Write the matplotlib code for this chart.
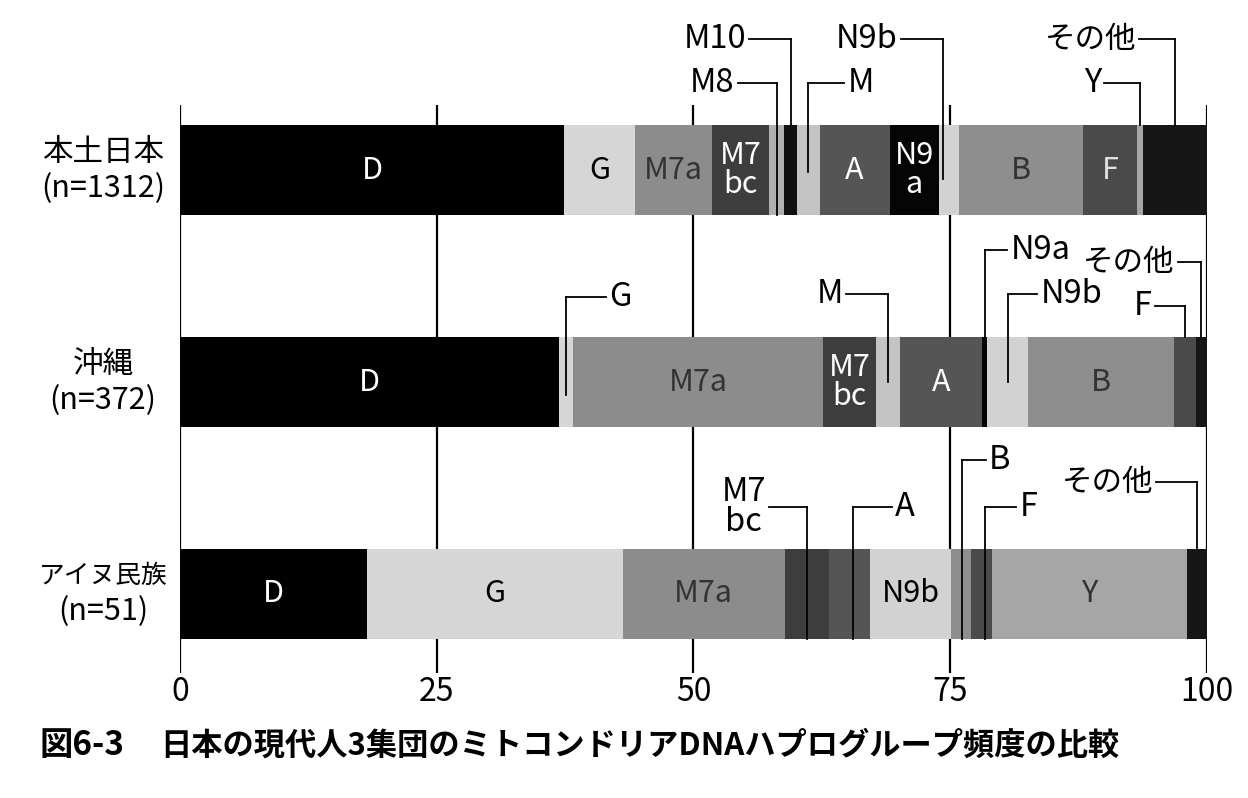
import numpy as np
import matplotlib.pyplot as plt
import matplotlib.transforms as mtransforms

plt.rcParams['font.family'] = ['Noto Sans CJK JP', 'DejaVu Sans']

# population labels (top to bottom)
groups = ['本土日本', '沖縄', 'アイヌ民族']
sizes = ['(n=1312)', '(n=372)', '(n=51)']

# haplogroup frequencies (%)
hondo_hg = ['D', 'G', 'M7a', 'M7bc', 'M8', 'M10', 'M', 'A', 'N9a', 'N9b', 'B', 'F', 'Y', 'その他']
hondo_pct = [37.4, 6.9, 7.5, 5.6, 1.4, 1.3, 2.2, 6.8, 4.8, 2.0, 12.0, 5.3, 0.6, 6.2]

okinawa_hg = ['D', 'G', 'M7a', 'M7bc', 'M', 'A', 'N9a', 'N9b', 'B', 'F', 'その他']
okinawa_pct = [36.9, 1.4, 24.3, 5.2, 2.3, 8.0, 0.5, 4.0, 14.2, 2.1, 1.1]

ainu_hg = ['D', 'G', 'M7a', 'M7bc', 'A', 'N9b', 'B', 'F', 'Y', 'その他']
ainu_pct = [18.2, 24.9, 15.8, 4.3, 4.0, 7.9, 1.9, 2.1, 19.0, 1.9]

xticks = [0, 25, 50, 75, 100]

rows = [(hondo_hg, hondo_pct), (okinawa_hg, okinawa_pct), (ainu_hg, ainu_pct)]

shade = {'D': '#000000', 'G': '#d6d6d6', 'M7a': '#8c8c8c', 'M7bc': '#3d3d3d',
         'M8': '#b0b0b0', 'M10': '#111111', 'M': '#c4c4c4', 'A': '#555555',
         'N9a': '#050505', 'N9b': '#d2d2d2', 'B': '#8e8e8e', 'F': '#4a4a4a',
         'Y': '#a6a6a6', 'その他': '#161616'}

# labels written inside the bars: haplogroup -> (text, colour)
inside = [
    {'D': ('D', 'white'), 'G': ('G', 'black'), 'M7a': ('M7a', '#333333'),
     'M7bc': ('M7\nbc', 'white'), 'A': ('A', 'white'), 'N9a': ('N9\na', 'white'),
     'B': ('B', '#333333'), 'F': ('F', '#e0e0e0')},
    {'D': ('D', 'white'), 'M7a': ('M7a', '#333333'), 'M7bc': ('M7\nbc', 'white'),
     'A': ('A', 'white'), 'B': ('B', '#333333')},
    {'D': ('D', 'white'), 'G': ('G', 'black'), 'M7a': ('M7a', '#333333'),
     'N9b': ('N9b', 'black'), 'Y': ('Y', '#333333')},
]

# callouts: (haplogroup, text, level above bar centre, line length, text side, leader end, x shift)
half = 0.2125
callouts = [
    [('M10', 'M10', -0.618, 4.0, 'l', -half, 0),
     ('M8', 'M8', -0.413, 3.8, 'l', half, 0),
     ('M', 'M', -0.413, 3.5, 'r', 0.01, 0),
     ('N9b', 'N9b', -0.618, 4.1, 'l', 0.04, -0.6),
     ('その他', 'その他', -0.618, 3.5, 'l', -half, 0),
     ('Y', 'Y', -0.413, 3.5, 'l', -half, 0)],
    [('G', 'G', -0.40, 3.9, 'r', 0.06, 0),
     ('M', 'M', -0.415, 4.1, 'l', 0.0, 0),
     ('N9a', 'N9a', -0.623, 2.2, 'r', -half, 0),
     ('N9b', 'N9b', -0.415, 2.9, 'r', 0.0, 0),
     ('その他', 'その他', -0.566, 2.3, 'l', -half, 0),
     ('F', 'F', -0.358, 2.9, 'l', -half, 0)],
    [('M7bc', 'M7\nbc', -0.41, 3.7, 'l', half, 0.0),
     ('A', 'A', -0.41, 3.8, 'r', half, 0.3),
     ('B', 'B', -0.632, 2.3, 'r', half, 0.1),
     ('F', 'F', -0.41, 3.1, 'r', half, 0.3),
     ('その他', 'その他', -0.528, 4.0, 'l', -half, 0)],
]

fig = plt.figure(figsize=(12.48, 7.98), dpi=100)
ax = fig.add_axes([0.1442, 0.1566, 0.8229, 0.7118])
ax.set_xlim(0, 100)
ax.set_ylim(2.373, -0.307)

for x in xticks:
    ax.axvline(x, color='black', lw=1.6, zorder=0)

lab_tr = mtransforms.blended_transform_factory(fig.transFigure, ax.transData)

for i, (hg, pct) in enumerate(rows):
    left = np.concatenate([[0], np.cumsum(pct)[:-1]])
    ax.barh(i, pct, left=left, height=2 * half,
            color=[shade[h] for h in hg], edgecolor='none', zorder=2)
    centers = dict(zip(hg, left + np.array(pct) / 2))
    for h, (t, c) in inside[i].items():
        ax.text(centers[h], i, t, ha='center', va='center', color=c,
                fontsize=22, linespacing=0.95, zorder=4)
    for h, t, lev, ln, side, end, dx in callouts[i]:
        cx = centers[h] + dx
        fs = 22 if t == 'その他' else 23.5
        ax.plot([cx, cx], [i + lev, i + end], color='black', lw=1.3,
                zorder=3, clip_on=False)
        if side == 'l':
            ax.plot([cx - ln, cx], [i + lev, i + lev], color='black', lw=1.3,
                    zorder=3, clip_on=False)
            ax.text(cx - ln - 0.3, i + lev, t, ha='right', va='center', fontsize=fs,
                    linespacing=0.95, multialignment='center', clip_on=False)
        else:
            ax.plot([cx, cx + ln], [i + lev, i + lev], color='black', lw=1.3,
                    zorder=3, clip_on=False)
            ax.text(cx + ln + 0.3, i + lev, t, ha='left', va='center', fontsize=fs,
                    linespacing=0.95, clip_on=False)
    name_fs = 18.5 if len(groups[i]) > 4 else 22
    ax.text(0.0825, i - 0.085, groups[i], transform=lab_tr, ha='center', va='center',
            fontsize=name_fs, clip_on=False)
    ax.text(0.0825, i + 0.085, sizes[i], transform=lab_tr, ha='center', va='center',
            fontsize=22, clip_on=False)

ax.set_xticks(xticks)
ax.set_xticklabels([str(x) for x in xticks], fontsize=23)
ax.tick_params(axis='x', length=0, pad=2)
ax.set_yticks([])
for s in ax.spines.values():
    s.set_visible(False)

fig.text(0.032, 0.066, '図6-3', fontsize=24, fontweight='bold', va='center')
fig.text(0.128, 0.066, '日本の現代人3集団のミトコンドリアDNAハプログループ頻度の比較',
         fontsize=22.5, fontweight='bold', va='center')

fig.savefig('out.png', dpi=100)
